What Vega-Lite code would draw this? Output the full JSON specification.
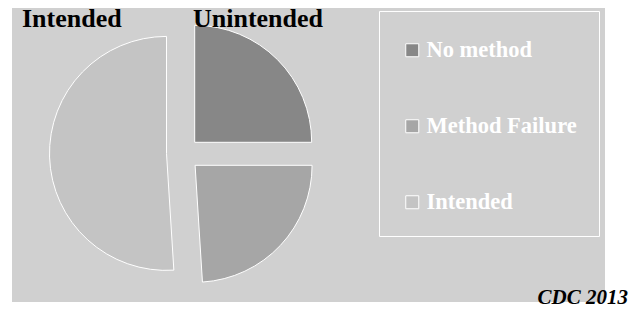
{
  "$schema": "https://vega.github.io/schema/vega-lite/v6.json",
  "background": "white",
  "padding": {"left": 12, "top": 6, "right": 10, "bottom": 4},
  "bounds": "flush",
  "spacing": 0,
  "config": {
    "view": {"fill": "#d0d0d0", "stroke": null}
  },
  "datasets": {
    "shares": [
      {"category": "No method", "percent": 25},
      {"category": "Method Failure", "percent": 24},
      {"category": "Intended", "percent": 51}
    ],
    "groups": [
      {"group": "Intended"},
      {"group": "Unintended"}
    ],
    "note": [
      {"source": "CDC  2013"}
    ]
  },
  "hconcat": [
    {
      "width": 342,
      "height": 294,
      "view": {"fill": "#d0d0d0", "stroke": null},
      "layer": [
        {
          "data": {"name": "shares"},
          "transform": [
            {"stack": "percent", "groupby": [], "sort": [{"field": "category", "order": "descending"}], "as": ["start", "end"]},
            {"filter": "datum.category === 'No method'"}
          ],
          "mark": {"type": "arc", "radius": 117, "stroke": "white", "strokeWidth": 1, "xOffset": 11.7, "yOffset": -12.7},
          "encoding": {
            "theta": {"field": "start", "type": "quantitative", "scale": {"domain": [0, 100], "nice": false, "zero": true}},
            "theta2": {"field": "end"},
            "color": {
              "field": "category",
              "type": "nominal",
              "scale": {"domain": ["No method", "Method Failure", "Intended"], "range": ["#878787", "#a6a6a6", "#c4c4c4"]},
              "legend": {
                "title": " ",
                "titleFontSize": 1,
                "titlePadding": 5,
                "orient": "none",
                "legendX": 367,
                "legendY": 3,
                "padding": 22,
                "strokeColor": "white",
                "symbolType": "square",
                "symbolSize": 169,
                "symbolStrokeColor": "white",
                "symbolStrokeWidth": 1,
                "labelFont": "Liberation Serif",
                "labelFontWeight": "bold",
                "labelFontSize": 22.5,
                "labelColor": "white",
                "labelOffset": 3,
                "labelLimit": 300,
                "rowPadding": 53
              }
            }
          }
        },
        {
          "data": {"name": "shares"},
          "transform": [
            {"stack": "percent", "groupby": [], "sort": [{"field": "category", "order": "descending"}], "as": ["start", "end"]},
            {"filter": "datum.category === 'Method Failure'"}
          ],
          "mark": {"type": "arc", "radius": 117, "stroke": "white", "strokeWidth": 1, "xOffset": 12.1, "yOffset": 10.3},
          "encoding": {
            "theta": {"field": "start", "type": "quantitative"},
            "theta2": {"field": "end"},
            "color": {"field": "category", "type": "nominal"}
          }
        },
        {
          "data": {"name": "shares"},
          "transform": [
            {"stack": "percent", "groupby": [], "sort": [{"field": "category", "order": "descending"}], "as": ["start", "end"]},
            {"filter": "datum.category === 'Intended'"}
          ],
          "mark": {"type": "arc", "radius": 117, "stroke": "white", "strokeWidth": 1, "xOffset": -16.5, "yOffset": -1.6},
          "encoding": {
            "theta": {"field": "start", "type": "quantitative"},
            "theta2": {"field": "end"},
            "color": {"field": "category", "type": "nominal"}
          }
        },
        {
          "data": {"name": "groups"},
          "mark": {"type": "text", "font": "Liberation Serif", "fontWeight": "bold", "fontSize": 26, "color": "black", "align": "left", "baseline": "alphabetic", "dx": 10, "dy": 19},
          "encoding": {
            "x": {"field": "group", "type": "nominal", "bandPosition": 0, "scale": {"type": "band", "paddingInner": 0, "paddingOuter": 0}, "axis": null},
            "y": {"value": 0},
            "text": {"field": "group", "type": "nominal"}
          }
        }
      ]
    },
    {
      "width": 251,
      "height": 294,
      "view": {"fill": "#d0d0d0", "stroke": null},
      "data": {"name": "note"},
      "mark": {"type": "text", "font": "Liberation Serif", "fontWeight": "bold", "fontStyle": "italic", "fontSize": 21, "color": "black", "align": "right", "baseline": "alphabetic", "dx": 23, "dy": 2},
      "encoding": {
        "x": {"value": "width"},
        "y": {"value": "height"},
        "text": {"field": "source", "type": "nominal"}
      }
    }
  ]
}
